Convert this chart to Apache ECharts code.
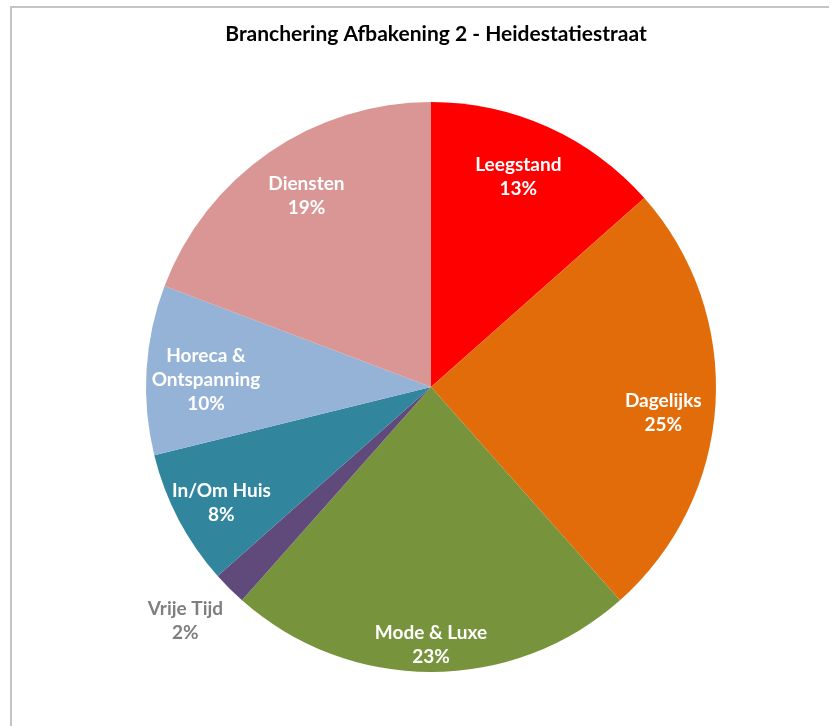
<!DOCTYPE html>
<html>
<head>
<meta charset="utf-8">
<title>Branchering Afbakening 2 - Heidestatiestraat</title>
<script src="https://cdn.jsdelivr.net/npm/echarts@6/dist/echarts.min.js"></script>
<style>
  html, body { margin: 0; padding: 0; background: #ffffff; }
  #chart { width: 839px; height: 726px; }
</style>
</head>
<body>
<div id="chart"></div>
<script>
// Shop counts per branch group, clockwise from twelve o'clock
const categories = ['Leegstand', 'Dagelijks', 'Mode & Luxe', 'Vrije Tijd', 'In/Om Huis', 'Horeca &\nOntspanning', 'Diensten'];
const counts = [7, 13, 12, 1, 4, 5, 10];
const sliceColors = ['#ff0000', '#e36c0a', '#77933c', '#604a7b', '#31859c', '#95b3d7', '#d99694'];

// Label placement: fraction of the radius and small angular nudge (degrees)
const labelRadius = [0.80, 0.82, 0.905, 1.19, 0.84, 0.79, 0.80];
const labelShift = [-1.7, 2.9, 0, 1.4, -1.2, -1.7, 1.5];
const labelColors = ['#ffffff', '#ffffff', '#ffffff', '#7f7f7f', '#ffffff', '#ffffff', '#ffffff'];

const CX = 431, CY = 387, R = 285;
const FONT = 'Lato, "Open Sans", sans-serif';

const total = counts.reduce((a, b) => a + b, 0);
const midAngles = [];
let acc = 0;
counts.forEach(v => {
  midAngles.push((acc + v / 2) / total * 360);
  acc += v;
});

const chart = echarts.init(document.getElementById('chart'), null, { renderer: 'canvas' });

chart.setOption({
  backgroundColor: '#ffffff',
  animation: false,
  title: {
    text: 'Branchering Afbakening 2 - Heidestatiestraat',
    left: 431,
    top: 19,
    textAlign: 'center',
    textStyle: { fontFamily: FONT, fontWeight: 'bold', fontSize: 21, color: '#000000' }
  },
  graphic: [{
    type: 'polyline',
    shape: { points: [[11, 726], [11, 7], [829, 7]] },
    style: { stroke: '#c4c4c4', lineWidth: 2, fill: null },
    silent: true
  }],
  series: [{
    type: 'pie',
    center: [CX, CY],
    radius: R,
    startAngle: 90,
    clockwise: true,
    percentPrecision: 0,
    avoidLabelOverlap: false,
    labelLine: { show: false },
    itemStyle: { borderWidth: 0 },
    label: {
      show: true,
      position: 'inside',
      formatter: '{b}\n{d}%',
      fontFamily: FONT,
      fontWeight: 'bold',
      fontSize: 19,
      lineHeight: 24,
      color: '#ffffff'
    },
    labelLayout: function (p) {
      const i = p.dataIndex;
      const a = (midAngles[i] + labelShift[i]) * Math.PI / 180;
      const r = R * labelRadius[i];
      return {
        x: CX + r * Math.sin(a),
        y: CY - r * Math.cos(a),
        align: 'center',
        verticalAlign: 'middle'
      };
    },
    data: categories.map((name, i) => ({
      name: name,
      value: counts[i],
      itemStyle: { color: sliceColors[i] },
      label: { color: labelColors[i] }
    }))
  }]
});
</script>
</body>
</html>
